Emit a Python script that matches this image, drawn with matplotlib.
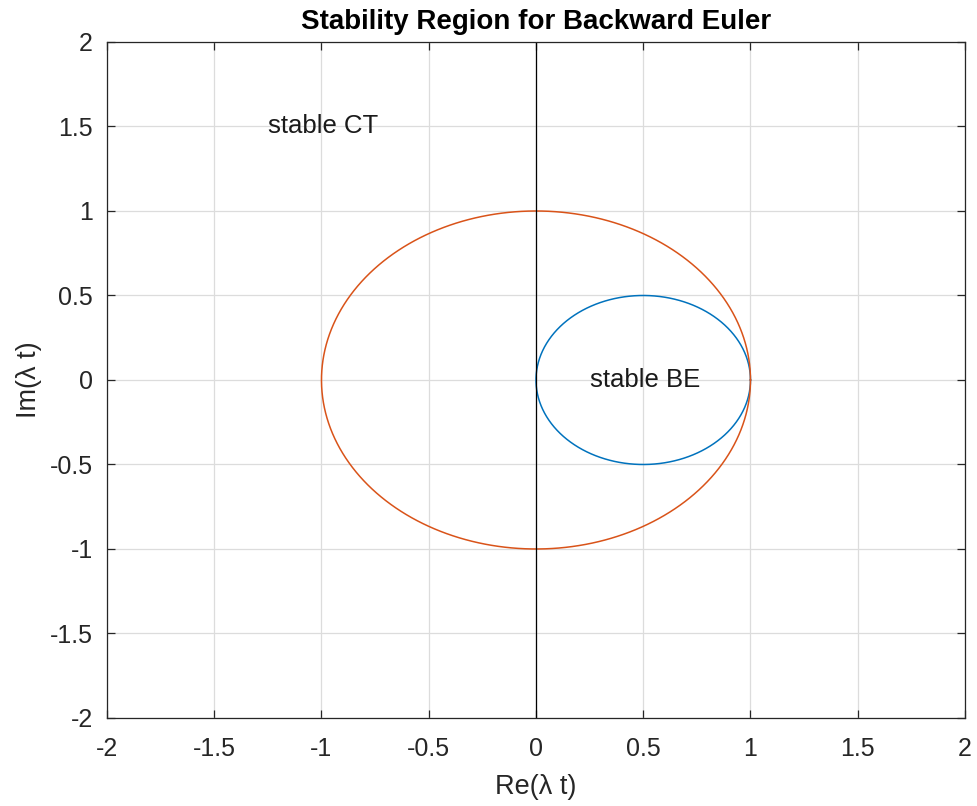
import numpy as np
import matplotlib
matplotlib.use("Agg")
import matplotlib.pyplot as plt

plt.rcParams['font.family'] = ['Liberation Sans', 'DejaVu Sans']

# circles: (center, radius)
ct_center, ct_radius = 0.0, 1.0   # stable CT boundary
be_center, be_radius = 0.5, 0.5   # stable BE boundary
ticks = [-2, -1.5, -1, -0.5, 0, 0.5, 1, 1.5, 2]
tick_labels = ['-2', '-1.5', '-1', '-0.5', '0', '0.5', '1', '1.5', '2']
labels = [("stable CT", -1.25, 1.5), ("stable BE", 0.25, 0.0)]

theta = np.linspace(0, 2 * np.pi, 400)

fig = plt.figure(figsize=(9.77, 8.06), dpi=100)
ax = fig.add_axes([0.1095, 0.1092, 0.8782, 0.8387])

ax.plot(be_center + be_radius * np.cos(theta), be_radius * np.sin(theta),
        color='#0072BD', lw=1.1)
ax.plot(ct_center + ct_radius * np.cos(theta), ct_radius * np.sin(theta),
        color='#D95319', lw=1.1)
ax.plot([0, 0], [-2, 2], color='black', lw=0.9)

for txt, x, y in labels:
    ax.text(x, y, txt, ha='left', va='center', fontsize=18.5, color='#1a1a1a')

ax.set_xlim(-2, 2)
ax.set_ylim(-2, 2)
ax.set_xticks(ticks)
ax.set_xticklabels(tick_labels)
ax.set_yticks(ticks)
ax.set_yticklabels(tick_labels)
ax.grid(True, color='#dcdcdc', lw=0.9)
ax.set_axisbelow(True)
ax.tick_params(direction='in', length=6, width=0.9, colors='#262626',
               labelsize=18, top=True, right=True)
ax.tick_params(axis='x', pad=14)
ax.tick_params(axis='y', pad=10)
for s in ax.spines.values():
    s.set_color('#262626')
    s.set_linewidth(0.9)

ax.set_title('Stability Region for Backward Euler', fontsize=20,
             fontweight='bold', pad=9)
ax.set_xlabel('Re(λ t)', fontsize=19.5, color='#262626', labelpad=9)
ax.set_ylabel('Im(λ t)', fontsize=19.5, color='#262626', labelpad=6)

fig.savefig('out.png', dpi=100)
